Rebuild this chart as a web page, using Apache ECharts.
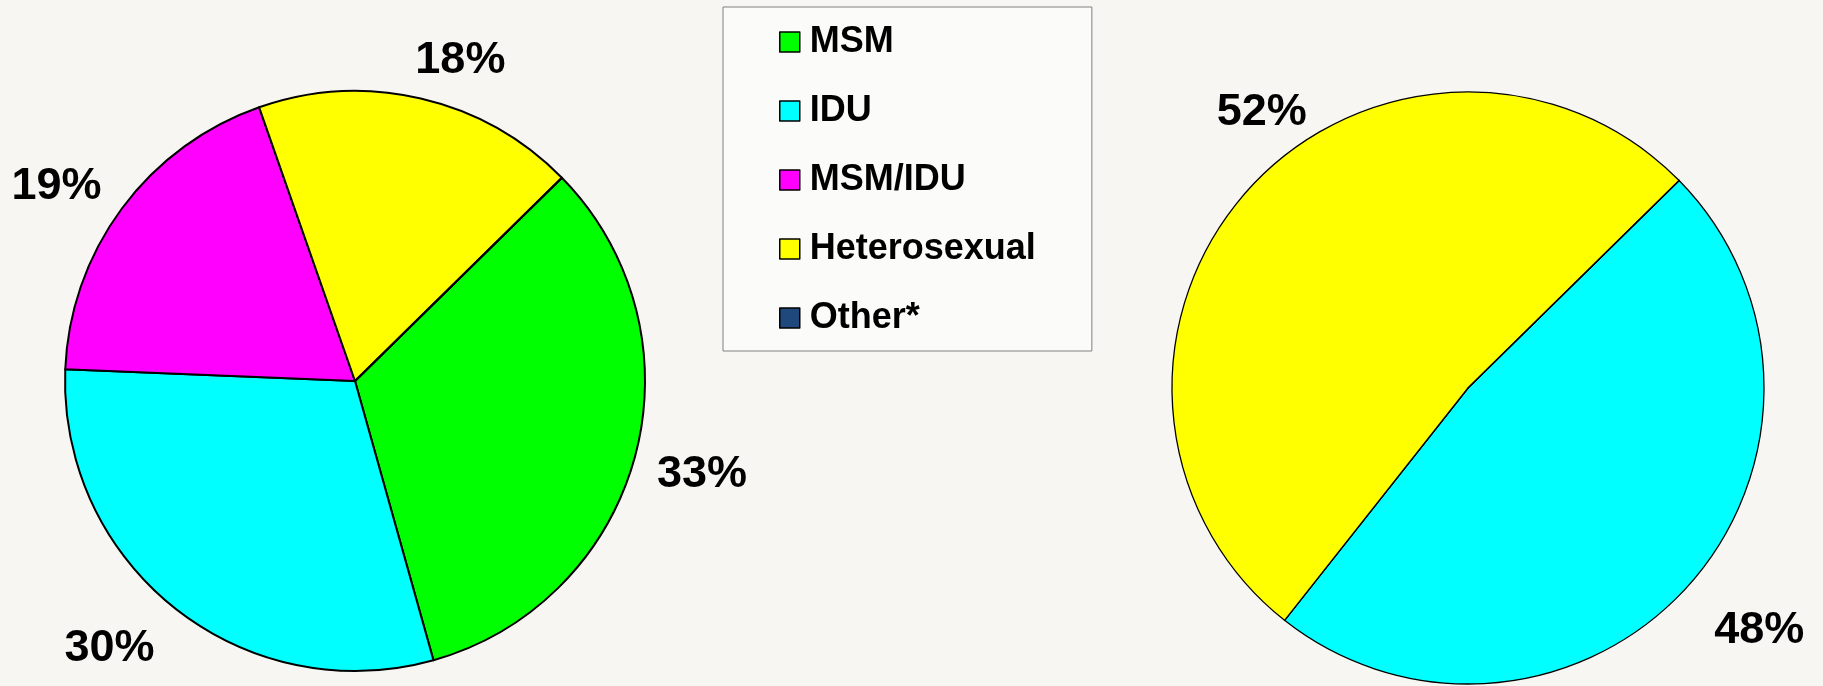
<!DOCTYPE html>
<html>
<head>
<meta charset="utf-8">
<script src="https://cdn.jsdelivr.net/npm/echarts@6/dist/echarts.min.js"></script>
<style>
  html, body { margin: 0; padding: 0; background: #f7f6f3; }
  #chart { width: 1823px; height: 686px; }
</style>
</head>
<body>
<div id="chart"></div>
<script>
// categories shared by both pies and the legend
const categories = ["MSM", "IDU", "MSM/IDU", "Heterosexual", "Other*"];
// percent shares, left and right pie
const leftValues = [33, 30, 19, 18, 0];
const rightValues = [0, 48, 0, 52, 0];
const sliceColors = ["#00ff00", "#00ffff", "#ff00ff", "#ffff00", "#1f497d"];

const font = "Arial, 'Liberation Sans', sans-serif";
// small label nudges (style only)
const labelNudge = {
  left: {
    "MSM": [0, 1],
    "IDU": [-23, -14],
    "MSM/IDU": [-10, 19],
    "Heterosexual": [24, 29]
  },
  right: {
    "IDU": [21, 0],
    "Heterosexual": [64, -33]
  }
};

const toData = (values) => categories.map((name, i) => ({
  name: name,
  value: values[i],
  itemStyle: { color: sliceColors[i] }
}));

const toLabelData = (values, side) => categories.map((name, i) => ({
  name: name,
  value: values[i],
  label: { offset: labelNudge[side][name] || [0, 0] }
}));

const slicePie = (values, center, radius, borderWidth) => ({
  type: "pie",
  center: center,
  radius: radius,
  startAngle: 44.5,
  clockwise: true,
  silent: true,
  avoidLabelOverlap: false,
  label: { show: false },
  labelLine: { show: false },
  emphasis: { disabled: true },
  itemStyle: { borderColor: "#000", borderWidth: borderWidth },
  data: toData(values)
});

const labelRing = (values, side, center, radius) => ({
  type: "pie",
  center: center,
  radius: radius,
  startAngle: 44.5,
  clockwise: true,
  silent: true,
  avoidLabelOverlap: false,
  itemStyle: { color: "transparent", borderWidth: 0 },
  emphasis: { disabled: true },
  labelLine: { show: false },
  label: {
    show: true,
    position: "inside",
    fontFamily: font,
    fontSize: 45,
    fontWeight: "bold",
    color: "#000",
    formatter: (p) => (p.value ? p.value + "%" : "")
  },
  data: toLabelData(values, side)
});

const chart = echarts.init(document.getElementById("chart"));
chart.setOption({
  backgroundColor: "#f7f6f3",
  animation: false,
  legend: {
    orient: "vertical",
    left: 723,
    top: 7,
    padding: [17, 56, 15, 56],
    itemWidth: 20,
    itemHeight: 20,
    itemGap: 33,
    icon: "rect",
    selectedMode: false,
    backgroundColor: "rgba(255,255,255,0.5)",
    borderColor: "#808080",
    borderWidth: 1,
    itemStyle: { borderColor: "#000", borderWidth: 1.5 },
    textStyle: {
      fontFamily: font,
      fontSize: 36,
      fontWeight: "bold",
      color: "#000",
      lineHeight: 36,
      padding: [0, 0, 0, 5]
    },
    data: categories
  },
  series: [
    slicePie(leftValues, [355, 381], [0, 290], 2),
    slicePie(rightValues, [1468, 388], [0, 296], 1.3),
    labelRing(leftValues, "left", [355, 381], [340, 372]),
    labelRing(rightValues, "right", [1468, 388], [345, 375])
  ]
});
</script>
</body>
</html>
